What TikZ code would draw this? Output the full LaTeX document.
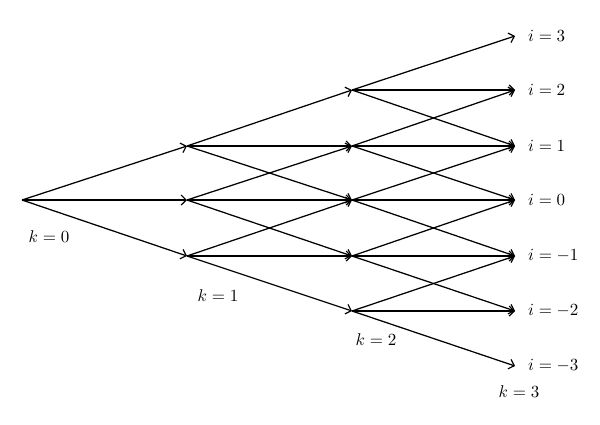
\documentclass[tikz,border=0pt]{standalone}
\usepackage{graphicx}
\usetikzlibrary{arrows.meta}
\newcommand{\biglab}[1]{\scalebox{1.7}{$#1$}}
\begin{document}
\begin{tikzpicture}[x=1pt,y=-1pt,
  edge/.style={line width=1.25pt,-{Straight Barb[length=5pt,width=10pt,line width=1.2pt]}},
  lab/.style={inner sep=0pt}]
\useasboundingbox (0,0) rectangle (600,424);
% nodes
\coordinate (n0) at (22,200);
\foreach \i/\y in {1/146,0/200,-1/256}{\coordinate (a\i) at (187,\y);}
\foreach \i/\y in {2/90,1/146,0/200,-1/256,-2/311}{\coordinate (b\i) at (352,\y);}
\foreach \i/\y in {3/36,2/90,1/146,0/200,-1/256,-2/311,-3/366}{\coordinate (c\i) at (515,\y);}
% edges
\foreach \j in {1,0,-1}{\draw[edge] (n0) -- (a\j);}
\foreach \i in {1,0,-1}{
  \foreach \d in {1,0,-1}{
    \pgfmathtruncatemacro{\t}{\i+\d}
    \draw[edge] (a\i) -- (b\t);
  }}
\foreach \i in {2,1,0,-1,-2}{
  \foreach \d in {1,0,-1}{
    \pgfmathtruncatemacro{\t}{\i+\d}
    \draw[edge] (b\i) -- (c\t);
  }}
% labels
\foreach \i/\y in {3/36,2/90,1/146,0/200,-1/256,-2/311,-3/366}{
  \node[lab,anchor=west] (li\i) at (528,\y) {\biglab{i=\i}};}
\node[lab] (lk0) at (49,237) {\biglab{k=0}};
\node[lab] (lk1) at (218,296) {\biglab{k=1}};
\node[lab] (lk2) at (376,340) {\biglab{k=2}};
\node[lab] (lk3) at (519,392) {\biglab{k=3}};
\end{tikzpicture}
\end{document}
